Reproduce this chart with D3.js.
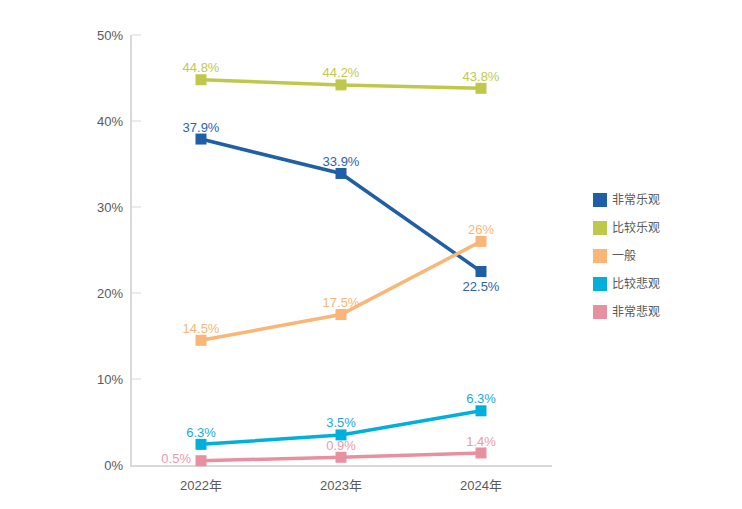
<!DOCTYPE html>
<html><head><meta charset="utf-8">
<script src="https://cdn.jsdelivr.net/npm/d3@7"></script>
<style>
body{margin:0;background:#fff;}
text{font-family:"Liberation Sans",Arial,"Noto Sans CJK SC",sans-serif;}
</style></head>
<body><svg id="c" width="742" height="509"></svg>
<script>
const years = ["2022年","2023年","2024年"];
const yTicks = [0,10,20,30,40,50];
const seriesNames = ["非常乐观","比较乐观","一般","比较悲观","非常悲观"];
const colors = ["#1f5fa6","#bfc84a","#f9b677","#00afdc","#e8909f"];
const labelColors = ["#2b62ad","#c2c94e","#f9b57a","#1aa9dc","#eb9aaa"];
const vals0 = [37.9,33.9,22.5];
const vals1 = [44.8,44.2,43.8];
const vals2 = [14.5,17.5,26];
const vals3 = [2.4,3.5,6.3];
const vals4 = [0.5,0.9,1.4];
const labels0 = ["37.9%","33.9%","22.5%"];
const labels1 = ["44.8%","44.2%","43.8%"];
const labels2 = ["14.5%","17.5%","26%"];
const labels3 = ["6.3%","3.5%","6.3%"];
const labels4 = ["0.5%","0.9%","1.4%"];
const values = [vals0,vals1,vals2,vals3,vals4];
const labels = [labels0,labels1,labels2,labels3,labels4];

const svg = d3.select("#c");
const x = d3.scalePoint().domain(years).range([201,481]);
const y = d3.scaleLinear().domain([0,50]).range([465,35]);

// axes
svg.append("line").attr("x1",131).attr("x2",131).attr("y1",35).attr("y2",466)
  .attr("stroke","#d9d9d9").attr("stroke-width",2);
svg.append("line").attr("x1",130).attr("x2",552).attr("y1",466).attr("y2",466)
  .attr("stroke","#d9d9d9").attr("stroke-width",2);
yTicks.forEach(t=>{
  if(t>0) svg.append("line").attr("x1",132).attr("x2",141).attr("y1",y(t)).attr("y2",y(t))
    .attr("stroke","#d9d9d9").attr("stroke-width",1);
  svg.append("text").attr("x",123).attr("y",y(t)).attr("dy","0.35em")
    .attr("text-anchor","end").attr("font-size",13).attr("fill","#595959").text(t+"%");
});
years.forEach(yr=>{
  svg.append("text").attr("x",x(yr)).attr("y",490).attr("text-anchor","middle")
    .attr("font-size",13).attr("fill","#595959").text(yr);
});

const line = d3.line().x((d,i)=>x(years[i])).y(d=>y(d));
values.forEach((vs,s)=>{
  svg.append("path").datum(vs).attr("d",line).attr("fill","none")
    .attr("stroke",colors[s]).attr("stroke-width",3.5);
  vs.forEach((v,i)=>{
    svg.append("rect").attr("x",x(years[i])-5.5).attr("y",y(v)-5.5)
      .attr("width",11).attr("height",11).attr("fill",colors[s]);
    let lx = x(years[i]), ly = y(v)-12, anchor="middle";
    if(s===0 && i===2){ ly = y(v)+15; }
    if(s===4 && i===0){ lx = x(years[i])-10; ly = y(v)-2; anchor="end"; }
    svg.append("text").attr("x",lx).attr("y",ly).attr("dy","0.35em")
      .attr("text-anchor",anchor).attr("font-size",13).attr("fill",labelColors[s])
      .text(labels[s][i]);
  });
});

// legend
seriesNames.forEach((n,i)=>{
  const ly = 200 + i*28;
  svg.append("rect").attr("x",593).attr("y",ly-7).attr("width",14).attr("height",14).attr("fill",colors[i]);
  svg.append("text").attr("x",612).attr("y",ly).attr("dy","0.35em")
    .attr("font-size",12).attr("fill","#595959")
    .style("font-family","'Noto Sans CJK SC',sans-serif").text(n);
});
</script></body></html>
